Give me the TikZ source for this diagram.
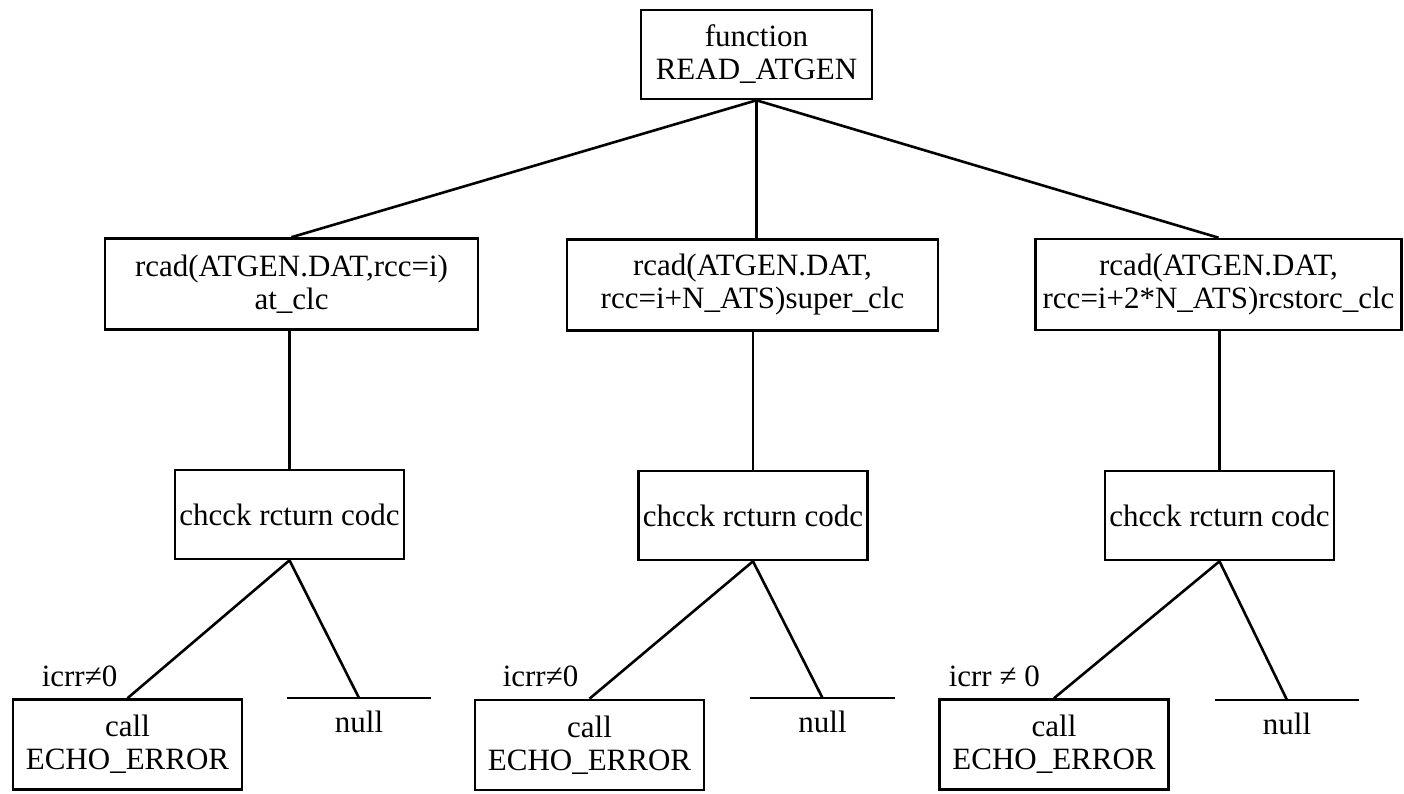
\documentclass[tikz,border=0pt]{standalone}
\usepackage{fontspec}
\setmainfont{Liberation Serif}
\begin{document}
\begin{tikzpicture}[x=1pt,y=-1pt,
  txt/.style={font=\fontsize{31}{33}\selectfont},
  box/.style={txt, draw, line width=2.6pt, inner sep=0pt, align=center},
  rootbox/.style={box, minimum width=231pt, minimum height=89pt},
  readbox/.style={box, minimum height=91pt},
  checkbox/.style={box, minimum width=229pt, minimum height=89pt},
  callbox/.style={box, minimum width=229pt, minimum height=90pt},
  nullbar/.style={txt, minimum width=144pt, inner xsep=0pt, inner ysep=13pt},
  wire/.style={line width=2.6pt},
  lbl/.style={txt, inner sep=0pt}]
\useasboundingbox (0,0) rectangle (1404,793);

% root
\node[rootbox] (root) at (756.5,54.5) {function\\READ\_ATGEN};

% read steps
\node[readbox, minimum width=373pt] (rdA) at (291.5,284) {rcad(ATGEN.DAT,rcc=i)\\at\_clc};
\node[readbox, minimum width=371pt] (rdB) at (752.5,285) {rcad(ATGEN.DAT,\\rcc=i+N\_ATS)super\_clc};
\node[readbox, minimum width=366pt] (rdC) at (1218.5,284.5) {rcad(ATGEN.DAT,\\rcc=i+2*N\_ATS)rcstorc\_clc};

% return code checks
\node[checkbox] (ckA) at (289.5,514.5) {chcck rcturn codc};
\node[checkbox] (ckB) at (753,515.5) {chcck rcturn codc};
\node[checkbox] (ckC) at (1219.5,515.5) {chcck rcturn codc};

% error calls
\node[callbox] (clA) at (127.5,744.5) {call\\ECHO\_ERROR};
\node[callbox] (clB) at (589.5,745) {call\\ECHO\_ERROR};
\node[callbox] (clC) at (1054,744.5) {call\\ECHO\_ERROR};

% null branches
\node[nullbar, anchor=north] (nlA) at (359,698) {null};
\node[nullbar, anchor=north] (nlB) at (822.5,698) {null};
\node[nullbar, anchor=north] (nlC) at (1287,700) {null};
\foreach \n in {nlA,nlB,nlC}
  \draw[wire] (\n.north west) -- (\n.north east);

% branch conditions
\node[lbl, anchor=base east] (erA) at ([xshift=-10pt,yshift=12pt]clA.north) {icrr≠0};
\node[lbl, anchor=base east] (erB) at ([xshift=-11pt,yshift=12pt]clB.north) {icrr≠0};
\node[lbl, anchor=base east] (erC) at ([xshift=-14pt,yshift=12pt]clC.north) {icrr ≠ 0};

% tree connectors
\draw[wire] (root.south) -- (rdA.north);
\draw[wire] (root.south) -- (root.south |- rdB.north);
\draw[wire] (root.south) -- (rdC.north);

\draw[wire] (ckA.north) -- (ckA.north |- rdA.south);
\draw[wire] (ckB.north) -- (ckB.north |- rdB.south);
\draw[wire] (ckC.north) -- (ckC.north |- rdC.south);

\draw[wire] (ckA.south) -- (clA.north);
\draw[wire] (ckA.south) -- (nlA.north);
\draw[wire] (ckB.south) -- (clB.north);
\draw[wire] (ckB.south) -- (nlB.north);
\draw[wire] (ckC.south) -- (clC.north);
\draw[wire] (ckC.south) -- (nlC.north);
\end{tikzpicture}
\end{document}
